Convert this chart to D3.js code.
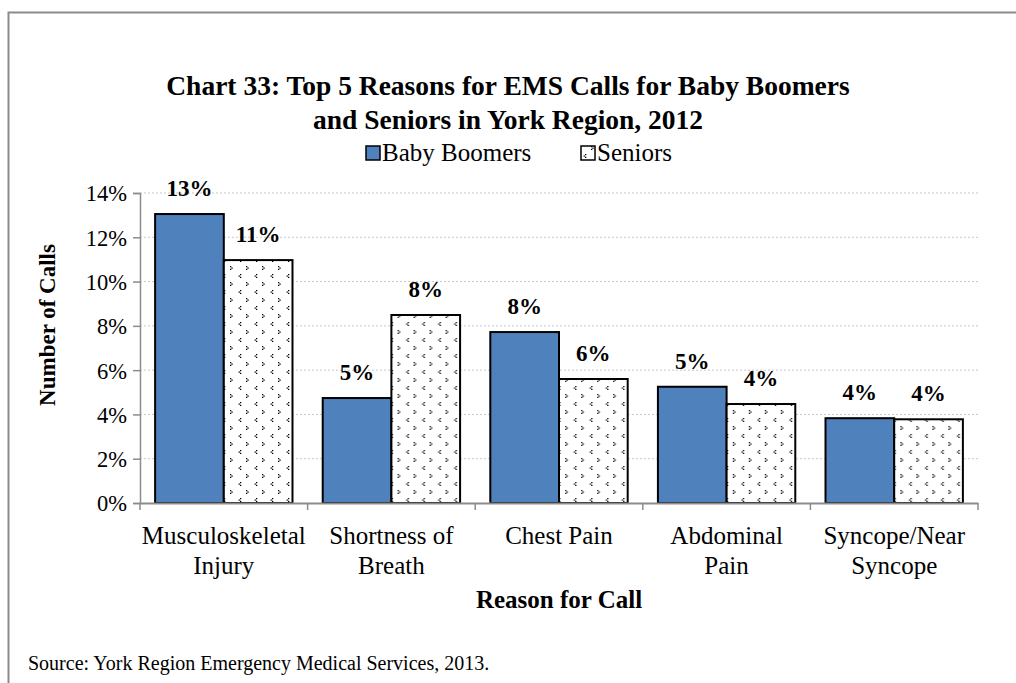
<!DOCTYPE html>
<html>
<head>
<meta charset="utf-8">
<script src="https://cdn.jsdelivr.net/npm/d3@7"></script>
<style>
  body { margin: 0; background: #fff; }
  text { font-family: "Liberation Serif", "DejaVu Serif", serif; fill: #000; }
  .title { font-size: 27.5px; font-weight: bold; }
  .label { font-size: 23px; font-weight: bold; }
</style>
</head>
<body>
<div id="chart"></div>
<script>
var categories = [["Musculoskeletal", "Injury"], ["Shortness of", "Breath"], ["Chest Pain"], ["Abdominal", "Pain"], ["Syncope/Near", "Syncope"]];
var series = ["Baby Boomers", "Seniors"];
var boomers = [13.05, 4.74, 7.72, 5.25, 3.83];
var seniors = [10.97, 8.49, 5.6, 4.47, 3.78];
var boomerLabels = ["13%", "5%", "8%", "5%", "4%"];
var seniorLabels = ["11%", "8%", "6%", "4%", "4%"];
var yTicks = [0, 2, 4, 6, 8, 10, 12, 14];

var margin = {top: 193, right: 38, bottom: 180, left: 140};
var W = 1016, H = 683;
var width = W - margin.left - margin.right;
var height = H - margin.top - margin.bottom;

var svg = d3.select("#chart").append("svg")
  .attr("width", W)
  .attr("height", H);

var defs = svg.append("defs");
var pat = defs.append("pattern")
  .attr("id", "dots")
  .attr("patternUnits", "userSpaceOnUse")
  .attr("width", 16).attr("height", 16);
pat.append("rect").attr("width", 16).attr("height", 16).attr("fill", "#fff");
// little "<" and ">" marks
pat.append("path").attr("d", "M4,1h1.3v1.3h-1.3zM2.6,2.4h1.3v1.3h-1.3zM4,3.8h1.3v1.3h-1.3z").attr("fill", "#000");
pat.append("path").attr("d", "M10,9h1.3v1.3h-1.3zM11.4,10.4h1.3v1.3h-1.3zM10,11.8h1.3v1.3h-1.3z").attr("fill", "#000");

// frame
svg.append("path")
  .attr("d", "M8.5," + H + "V12.5H" + W)
  .attr("fill", "none")
  .attr("stroke", "#8c8c8c")
  .attr("stroke-width", 2);

var x = d3.scaleBand()
  .domain(d3.range(categories.length))
  .range([0, width]);

var x1 = d3.scaleBand()
  .domain(series)
  .range([0, x.bandwidth()])
  .paddingOuter(0.22)
  .paddingInner(0);

var y = d3.scaleLinear()
  .domain([0, 14])
  .range([height, 0]);

var g = svg.append("g")
  .attr("transform", "translate(" + margin.left + "," + margin.top + ")");

// gridlines
g.selectAll(".grid")
  .data(yTicks.slice(1))
  .enter().append("line")
  .attr("x1", 0).attr("x2", width)
  .attr("y1", function(d) { return y(d); })
  .attr("y2", function(d) { return y(d); })
  .attr("stroke", "#c8c8c8")
  .attr("stroke-dasharray", "2,2");

// y axis
var yAxis = g.append("g")
  .call(d3.axisLeft(y).tickValues(yTicks).tickSize(7).tickPadding(6)
    .tickFormat(function(d) { return d + "%"; }));
yAxis.select(".domain").attr("stroke", "#8c8c8c").attr("stroke-width", 1.5);
yAxis.selectAll(".tick line").attr("stroke", "#8c8c8c").attr("stroke-width", 1.5);
yAxis.selectAll(".tick text")
  .attr("dy", "0.35em")
  .style("font-size", "22.5px")
  .style("font-family", "'Liberation Serif', serif");

// bars
var grp = g.selectAll(".cat")
  .data(categories)
  .enter().append("g")
  .attr("transform", function(d, i) { return "translate(" + x(i) + ",0)"; });

grp.append("rect")
  .attr("x", x1("Baby Boomers"))
  .attr("y", function(d, i) { return y(boomers[i]); })
  .attr("width", x1.bandwidth())
  .attr("height", function(d, i) { return height - y(boomers[i]); })
  .attr("fill", "#4f81bd")
  .attr("stroke", "#000")
  .attr("stroke-width", 2);

grp.append("rect")
  .attr("x", x1("Seniors"))
  .attr("y", function(d, i) { return y(seniors[i]); })
  .attr("width", x1.bandwidth())
  .attr("height", function(d, i) { return height - y(seniors[i]); })
  .attr("fill", "url(#dots)")
  .attr("stroke", "#000")
  .attr("stroke-width", 2);

grp.append("text")
  .attr("class", "label")
  .attr("text-anchor", "middle")
  .attr("x", x1("Baby Boomers") + x1.bandwidth() / 2)
  .attr("y", function(d, i) { return y(boomers[i]) - 18; })
  .text(function(d, i) { return boomerLabels[i]; });

grp.append("text")
  .attr("class", "label")
  .attr("text-anchor", "middle")
  .attr("x", x1("Seniors") + x1.bandwidth() / 2)
  .attr("y", function(d, i) { return y(seniors[i]) - 18; })
  .text(function(d, i) { return seniorLabels[i]; });

// x axis
var xAxis = g.append("g")
  .attr("transform", "translate(0," + height + ")")
  .call(d3.axisBottom(x).tickSize(0).tickFormat(""));
xAxis.select(".domain").attr("stroke", "#8c8c8c").attr("stroke-width", 2);

g.selectAll(".xtick")
  .data(d3.range(categories.length + 1))
  .enter().append("line")
  .attr("x1", function(d) { return d * x.step(); })
  .attr("x2", function(d) { return d * x.step(); })
  .attr("y1", height).attr("y2", height + 7)
  .attr("stroke", "#8c8c8c").attr("stroke-width", 1.5);

grp.each(function(d) {
  var t = d3.select(this).append("text")
    .attr("text-anchor", "middle")
    .style("font-size", "25px")
    .attr("y", height + 41);
  d.forEach(function(line, j) {
    t.append("tspan")
      .attr("x", x.bandwidth() / 2)
      .attr("dy", j === 0 ? 0 : 30)
      .text(line);
  });
});

// axis titles
svg.append("text")
  .attr("x", margin.left + width / 2)
  .attr("y", 608)
  .attr("text-anchor", "middle")
  .style("font-size", "25px").style("font-weight", "bold")
  .text("Reason for Call");

svg.append("text")
  .attr("transform", "translate(55,325) rotate(-90)")
  .attr("text-anchor", "middle")
  .style("font-size", "23px").style("font-weight", "bold")
  .text("Number of Calls");

// title
svg.append("text")
  .attr("class", "title")
  .attr("x", 508).attr("y", 95)
  .attr("text-anchor", "middle")
  .text("Chart 33: Top 5 Reasons for EMS Calls for Baby Boomers");
svg.append("text")
  .attr("class", "title")
  .attr("x", 508).attr("y", 129)
  .attr("text-anchor", "middle")
  .text("and Seniors in York Region, 2012");

// legend
var legendFill = ["#4f81bd", "url(#dots)"];
var legendX = [366, 581];
series.forEach(function(s, i) {
  var lg = svg.append("g").attr("transform", "translate(" + legendX[i] + ",153)");
  lg.append("rect")
    .attr("x", 0).attr("y", -7)
    .attr("width", 14).attr("height", 14)
    .attr("fill", legendFill[i])
    .attr("stroke", "#000").attr("stroke-width", 1.5);
  lg.append("text")
    .attr("x", 16).attr("y", 8)
    .style("font-size", "25px")
    .text(s);
});

// source
svg.append("text")
  .attr("x", 28).attr("y", 670)
  .style("font-size", "20px")
  .text("Source: York Region Emergency Medical Services, 2013.");
</script>
</body>
</html>
